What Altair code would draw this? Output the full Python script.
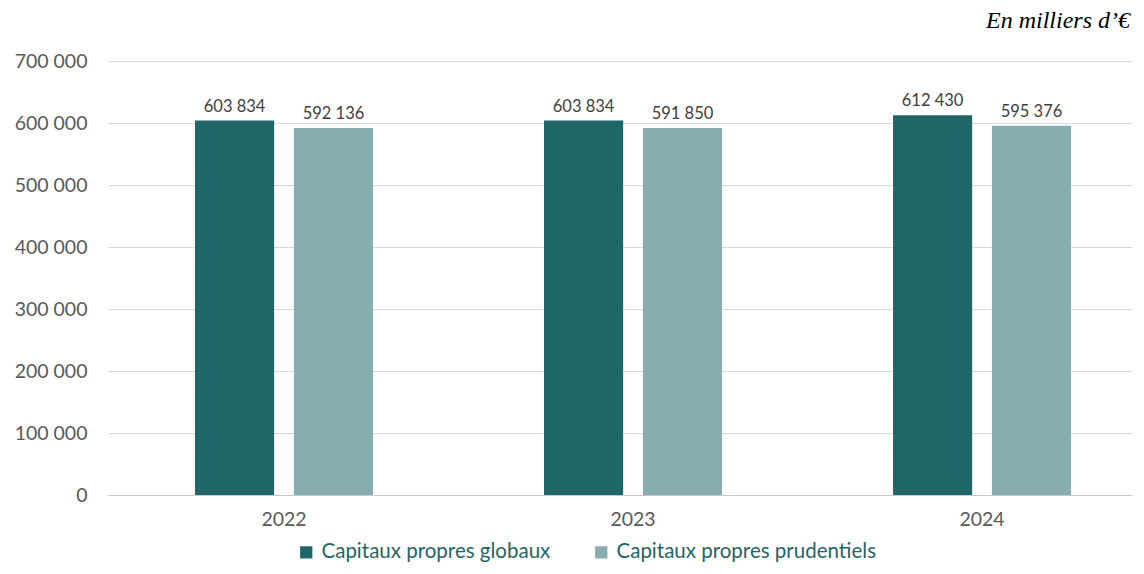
import altair as alt
import pandas as pd

years = ["2022", "2023", "2024"]
series = ["Capitaux propres globaux", "Capitaux propres prudentiels"]
globaux = [603834, 603834, 612430]
prudentiels = [592136, 591850, 595376]
colors = ["#1f6668", "#86adaf"]

rows = []
for i, y in enumerate(years):
    rows.append({"year": y, "series": series[0], "value": globaux[i]})
    rows.append({"year": y, "series": series[1], "value": prudentiels[i]})
df = pd.DataFrame(rows)

FONT = "Lato"

x = alt.X("year:N", title=None,
          scale=alt.Scale(paddingInner=0.49, paddingOuter=0.212, align=0.588),
          axis=alt.Axis(labelAngle=0, labelFontSize=19.5, labelColor="#595959",
                        labelFont=FONT, ticks=False, domainColor="#c8c8c8",
                        labelPadding=15))
xo = alt.XOffset("series:N", sort=series,
                 scale=alt.Scale(paddingInner=0.2, paddingOuter=0))
y = alt.Y("value:Q", title=None,
          scale=alt.Scale(domain=[0, 700000], nice=False),
          axis=alt.Axis(values=list(range(0, 700001, 100000)), labelFontSize=19.5,
                        labelColor="#595959", labelFont=FONT, ticks=False,
                        domain=False, gridColor="#d9d9d9", labelPadding=21,
                        labelExpr="replace(format(datum.value, ','), ',', ' ')"))

bars = alt.Chart(df).mark_bar().encode(
    x=x, xOffset=xo, y=y,
    color=alt.Color("series:N", sort=series,
                    scale=alt.Scale(domain=series, range=colors),
                    legend=alt.Legend(title=None, orient="none", direction="horizontal",
                                      legendX=188, legendY=481, symbolType="square",
                                      symbolSize=150, symbolStrokeWidth=0,
                                      labelFontSize=20.5, labelColor="#1f6668",
                                      labelFont=FONT, columnPadding=40,
                                      labelOffset=5, labelLimit=400)),
)

labels = alt.Chart(df).transform_calculate(
    label="replace(format(datum.value, ','), ',', ' ')"
).mark_text(baseline="bottom", dy=-6, fontSize=16.5, font=FONT, color="#404040").encode(
    x=x, xOffset=xo, y=y, text="label:N"
)

chart = alt.layer(bars, labels).properties(
    width=1024, height=434,
    autosize=alt.AutoSizeParams(type="none"),
    padding={"left": 100, "top": 53, "right": 4, "bottom": 71},
    title=alt.TitleParams("En milliers d\u2019\u20ac", anchor="end", font="Liberation Serif",
                          fontStyle="italic", fontWeight="normal", fontSize=24,
                          color="#000000", offset=18, dx=-2),
).configure_view(stroke=None)

chart.save("out.html", embed_options={"renderer": "svg", "actions": False})
